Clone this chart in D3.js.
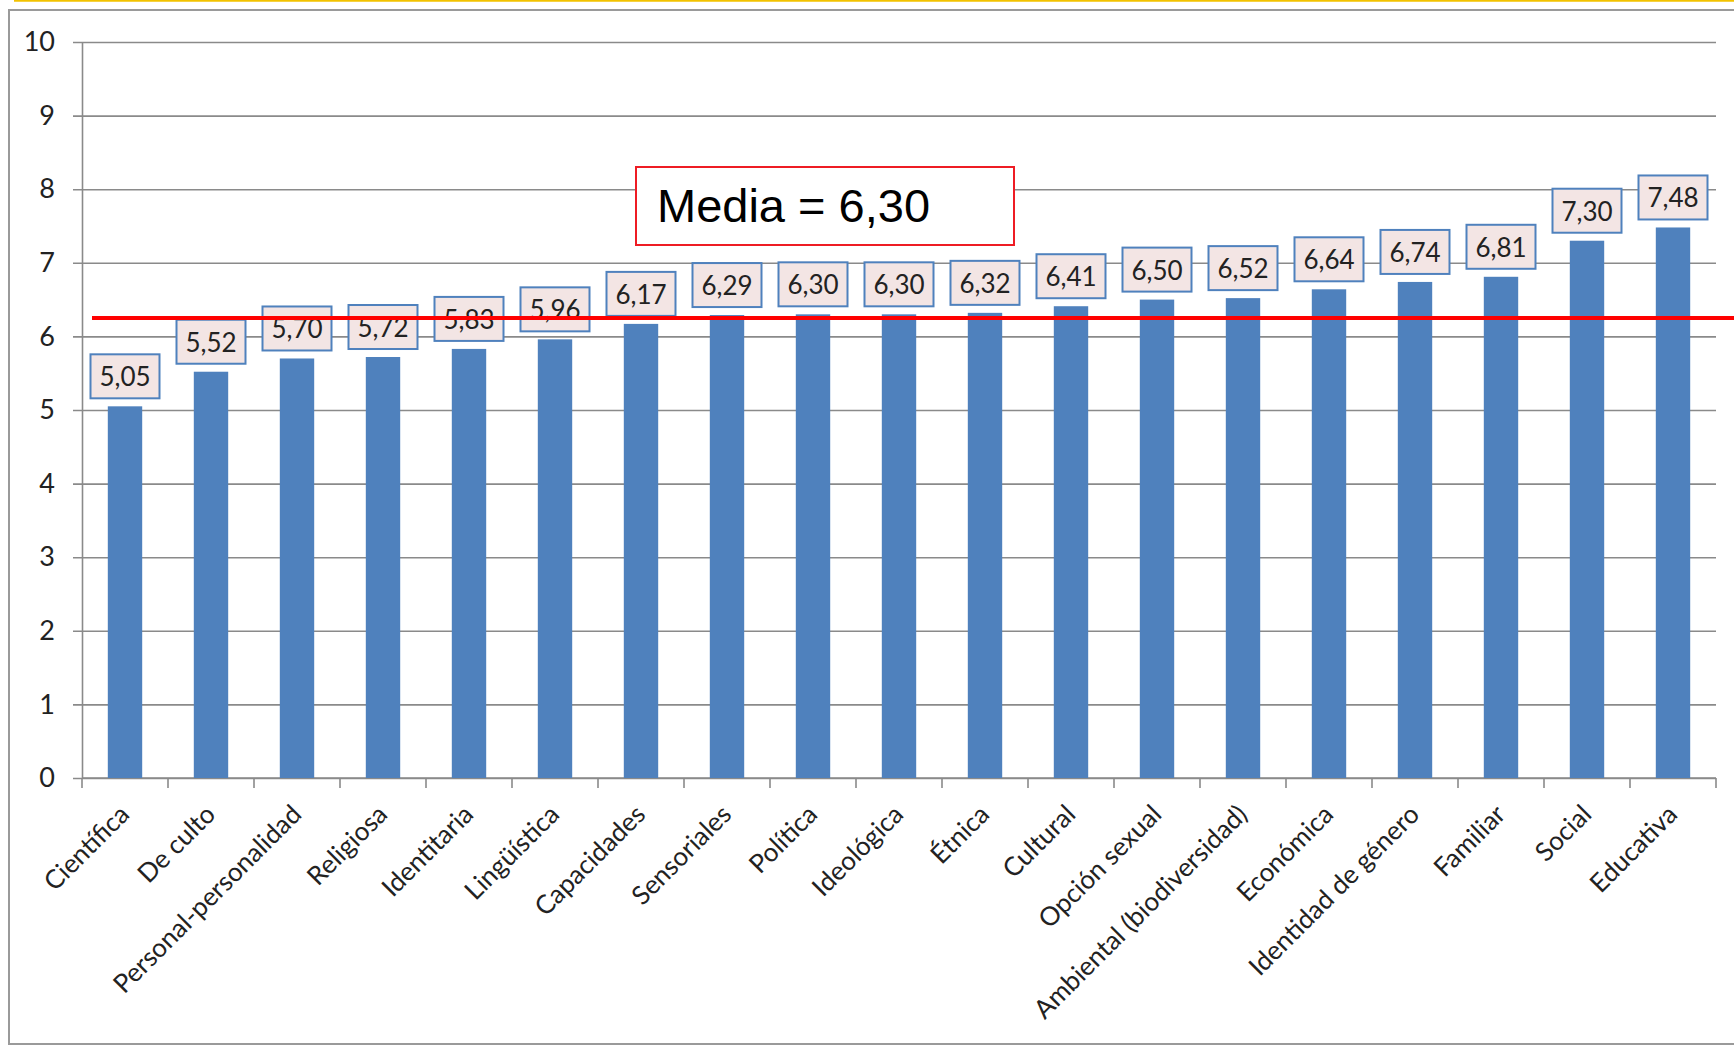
<!DOCTYPE html>
<html>
<head>
<meta charset="utf-8">
<script src="https://cdn.jsdelivr.net/npm/d3@7"></script>
<style>
  html, body { margin: 0; padding: 0; background: #fff; }
  svg { display: block; }
</style>
</head>
<body>
<svg id="chart" width="1734" height="1049"></svg>
<script>
// ---- data ----
const categories = ["Científica", "De culto", "Personal-personalidad", "Religiosa", "Identitaria",
  "Lingüística", "Capacidades", "Sensoriales", "Política", "Ideológica", "Étnica", "Cultural",
  "Opción sexual", "Ambiental (biodiversidad)", "Económica", "Identidad de género", "Familiar",
  "Social", "Educativa"];
const values = [5.05, 5.52, 5.70, 5.72, 5.83, 5.96, 6.17, 6.29, 6.30, 6.30, 6.32, 6.41,
  6.50, 6.52, 6.64, 6.74, 6.81, 7.30, 7.48];
const valueLabels = ["5,05", "5,52", "5,70", "5,72", "5,83", "5,96", "6,17", "6,29", "6,30", "6,30",
  "6,32", "6,41", "6,50", "6,52", "6,64", "6,74", "6,81", "7,30", "7,48"];
const yTicks = [0, 1, 2, 3, 4, 5, 6, 7, 8, 9, 10];
const meanLineValue = 6.25;      // position of the drawn red line
const meanText = "Media = 6,30";

// ---- layout ----
const svg = d3.select("#chart");
const W = 1734, H = 1049;
const plot = { left: 82, right: 1716, top: 42, bottom: 778 };
const font = "Lato, 'Open Sans', sans-serif";

// frame
svg.append("line").attr("x1", 14).attr("x2", W).attr("y1", 0.75).attr("y2", 0.75)
  .attr("stroke", "#f2c200").attr("stroke-width", 2);
svg.append("path").attr("d", `M${W + 5},10 H9 V${H - 5} H${W + 5}`)
  .attr("fill", "none").attr("stroke", "#9a9a9a").attr("stroke-width", 2);

const x = d3.scaleBand().domain(categories).range([plot.left, plot.right])
  .paddingInner(0.6).paddingOuter(0.3);
const y = d3.scaleLinear().domain([0, 10]).range([plot.bottom, plot.top]);

// gridlines + y axis
const yAxis = d3.axisLeft(y).tickValues(yTicks).tickFormat(d3.format("d"))
  .tickSize(-(plot.right - plot.left)).tickSizeOuter(0).tickPadding(18);
const gy = svg.append("g").attr("transform", `translate(${plot.left},0)`).call(yAxis);
gy.select(".domain").attr("stroke", "#8a8a8a").attr("stroke-width", 1.6);
gy.selectAll(".tick line").attr("stroke", "#8a8a8a").attr("stroke-width", 1.6).attr("x1", -9);
gy.selectAll(".tick text").attr("font-family", font).attr("font-size", 27).attr("fill", "#222")
  .attr("x", -27);

// x axis with category-boundary ticks
const gx = svg.append("g").attr("transform", `translate(0,${plot.bottom})`);
gx.append("line").attr("x1", plot.left).attr("x2", plot.right).attr("y1", 0).attr("y2", 0)
  .attr("stroke", "#8a8a8a").attr("stroke-width", 1.6);
const step = x.step();
const boundaries = d3.range(categories.length + 1).map(i => plot.left + i * step);
gx.selectAll("line.tk").data(boundaries).join("line").attr("class", "tk")
  .attr("x1", d => d).attr("x2", d => d).attr("y1", 0).attr("y2", 10)
  .attr("stroke", "#8a8a8a").attr("stroke-width", 1.6);
gx.selectAll("text.cat").data(categories).join("text").attr("class", "cat")
  .attr("transform", d => `translate(${x(d) + x.bandwidth() / 2 + 6},${38}) rotate(-45)`)
  .attr("text-anchor", "end")
  .attr("font-family", font).attr("font-size", 26).attr("fill", "#222")
  .text(d => d);

// bars
svg.append("g").selectAll("rect").data(values).join("rect")
  .attr("x", (d, i) => x(categories[i]))
  .attr("width", x.bandwidth())
  .attr("y", d => y(d))
  .attr("height", d => y(0) - y(d))
  .attr("fill", "#4f81bd");

// data labels
const lg = svg.append("g");
const labels = lg.selectAll("g").data(values).join("g")
  .attr("transform", (d, i) => `translate(${x(categories[i]) + x.bandwidth() / 2},${y(d) - 8})`);
labels.append("rect")
  .attr("x", -34.5).attr("y", -44).attr("width", 69).attr("height", 44)
  .attr("fill", "#f3e5e4").attr("stroke", "#4f81bd").attr("stroke-width", 2);
labels.append("text")
  .attr("x", 0).attr("y", -12).attr("text-anchor", "middle")
  .attr("font-family", font).attr("font-size", 26).attr("fill", "#222")
  .text((d, i) => valueLabels[i]);

// mean line
svg.append("line").attr("x1", 92).attr("x2", W).attr("y1", y(meanLineValue)).attr("y2", y(meanLineValue))
  .attr("stroke", "#ff0000").attr("stroke-width", 4);

// mean annotation box
svg.append("rect").attr("x", 636).attr("y", 167).attr("width", 378).attr("height", 78)
  .attr("fill", "#fff").attr("stroke", "#ee1c24").attr("stroke-width", 2);
svg.append("text").attr("x", 657).attr("y", 222).attr("font-family", "'Liberation Sans', Arial, sans-serif")
  .attr("font-size", 47).attr("fill", "#000").text(meanText);
</script>
</body>
</html>
